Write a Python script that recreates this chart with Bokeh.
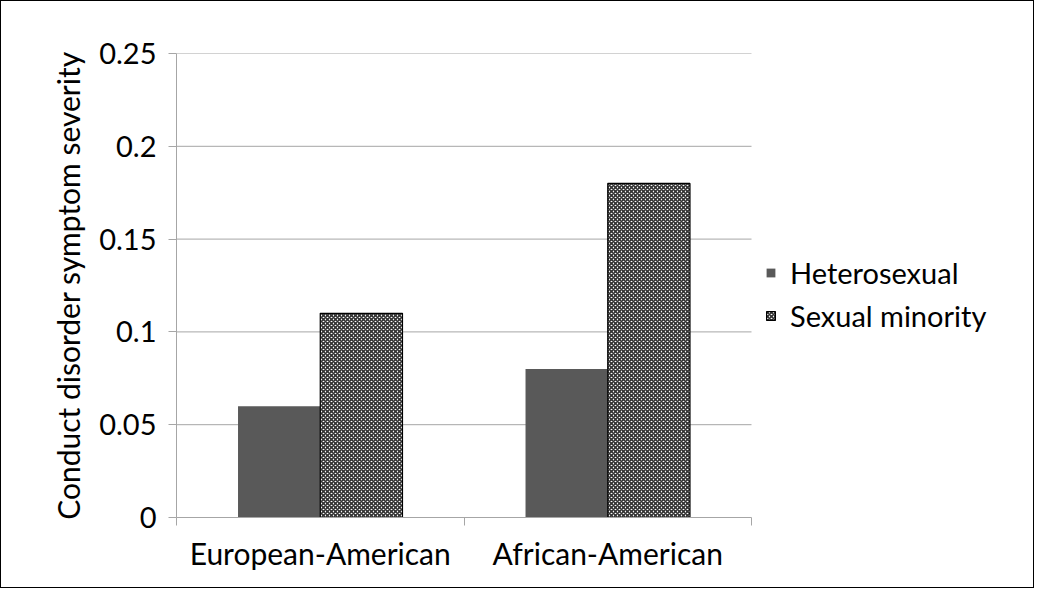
from bokeh.plotting import figure
from bokeh.models import ColumnDataSource, FixedTicker, Range1d, Legend, LegendItem
from bokeh.transform import dodge
from bokeh.embed import file_html
from bokeh.resources import INLINE

categories = ["European-American", "African-American"]
heterosexual = [0.06, 0.08]
sexual_minority = [0.11, 0.18]
y_ticks = [0, 0.05, 0.1, 0.15, 0.2, 0.25]
y_tick_labels = ["0", "0.05", "0.1", "0.15", "0.2", "0.25"]

FONT = "Lato"
GRID = "#a6a6a6"

W, H = 1034, 588
LEFT, RIGHT, TOP, BOTTOM = 175, 10, 52, 72
AXIS_PX = 575  # pixel length of the category axis
n = len(categories)
frame_w = W - LEFT - RIGHT
x_end = n * frame_w / AXIS_PX

centers = [i + 0.5 for i in range(n)]
src = ColumnDataSource(dict(x=centers, het=heterosexual, sm=sexual_minority))

p = figure(width=W, height=H, output_backend="svg", toolbar_location=None,
           x_range=Range1d(0, x_end), y_range=Range1d(0, 0.25),
           min_border_left=LEFT, min_border_right=RIGHT, min_border_top=TOP,
           min_border_bottom=BOTTOM)
p.outline_line_color = None
p.border_fill_color = "white"
p.background_fill_color = "white"
p.xgrid.grid_line_color = None
p.ygrid.grid_line_color = None

# horizontal gridlines limited to the category span
grid_ticks = y_ticks[1:]
p.segment(x0=[0] * len(grid_ticks), x1=[n] * len(grid_ticks), y0=grid_ticks, y1=grid_ticks,
          line_color=GRID, line_width=1)

bw = 0.286
r1 = p.vbar(x=dodge("x", -bw / 2, range=p.x_range), top="het", width=bw, source=src,
            fill_color="#595959", line_color=None)
r2 = p.vbar(x=dodge("x", bw / 2, range=p.x_range), top="sm", width=bw, source=src,
            fill_color="white", line_color="black", line_width=1.2,
            hatch_pattern="diagonal_cross", hatch_color="#333333", hatch_alpha=1.0,
            hatch_scale=4, hatch_weight=1.6)

# Y axis
p.yaxis.ticker = FixedTicker(ticks=y_ticks)
p.yaxis.major_label_overrides = {t: l for t, l in zip(y_ticks, y_tick_labels)}
p.yaxis.major_tick_out = 8
p.yaxis.major_tick_in = 0
p.yaxis.minor_tick_line_color = None
p.yaxis.axis_line_color = GRID
p.yaxis.major_tick_line_color = GRID
p.yaxis.major_label_text_font = FONT
p.yaxis.major_label_text_font_size = "29px"
p.yaxis.major_label_text_color = "black"
p.yaxis.axis_label = "Conduct disorder symptom severity"
p.yaxis.axis_label_text_font = FONT
p.yaxis.axis_label_text_font_size = "30px"
p.yaxis.axis_label_text_font_style = "normal"
p.yaxis.axis_label_text_color = "black"
p.yaxis.axis_label_standoff = 10
p.yaxis.major_label_standoff = 12

# X axis (only over the category span)
p.xaxis.bounds = (0, n)
p.xaxis.ticker = FixedTicker(ticks=centers, minor_ticks=list(range(n + 1)))
p.xaxis.major_label_overrides = {c: nm for c, nm in zip(centers, categories)}
p.xaxis.major_tick_line_color = None
p.xaxis.minor_tick_line_color = GRID
p.xaxis.minor_tick_out = 8
p.xaxis.minor_tick_in = 0
p.xaxis.axis_line_color = GRID
p.xaxis.major_label_text_font = FONT
p.xaxis.major_label_text_font_size = "30px"
p.xaxis.major_label_text_color = "black"
p.xaxis.major_label_standoff = 9

legend = Legend(items=[LegendItem(label="Heterosexual", renderers=[r1]),
                       LegendItem(label="Sexual minority", renderers=[r2])],
                location=(589, 184), label_text_font=FONT, label_text_font_size="29px",
                label_text_color="black",
                glyph_width=11, glyph_height=11, spacing=8, label_standoff=14,
                border_line_color=None, background_fill_alpha=0)
p.add_layout(legend, "center")

p.styles = {"border": "1.5px solid black"}

open("out.html", "w").write(file_html(p, INLINE))
